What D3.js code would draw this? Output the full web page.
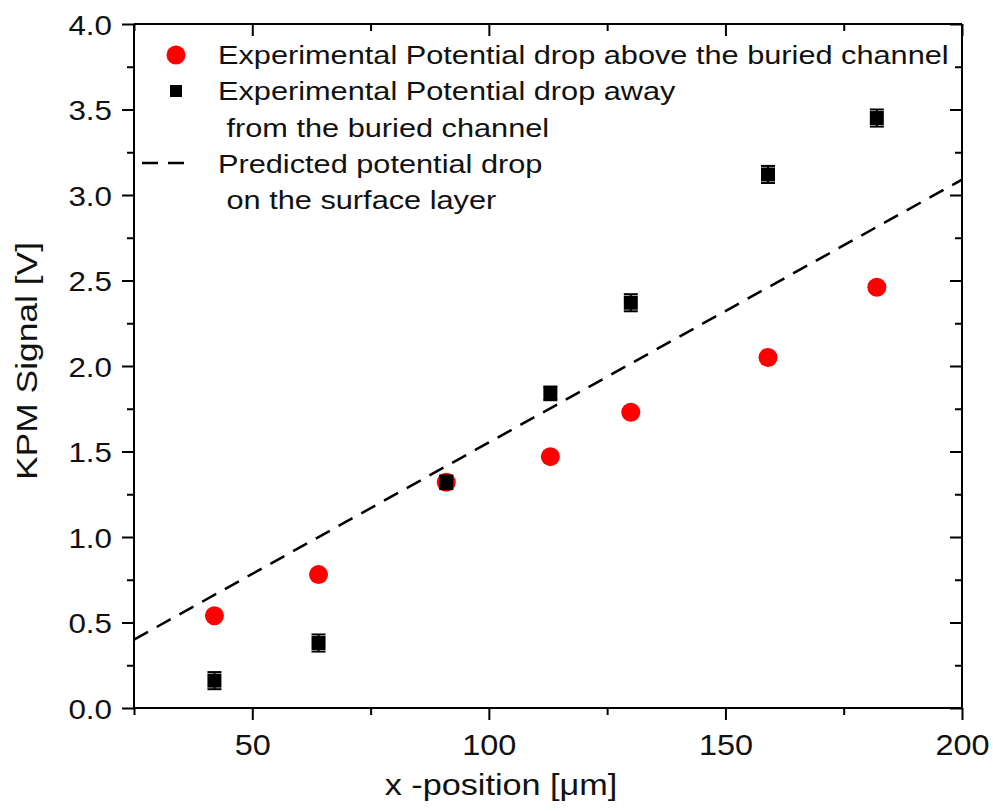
<!DOCTYPE html>
<html>
<head>
<meta charset="utf-8">
<script src="https://cdn.jsdelivr.net/npm/d3@7"></script>
<style>
  body { margin: 0; background: #fff; }
  svg { font-family: Arial, "Liberation Sans", sans-serif; }
</style>
</head>
<body>
<div id="wrapper"></div>
<script>
// x positions [µm]
const xPos = [42, 64, 91, 113, 130, 159, 182]
// KPM signal above the buried channel (red circles)
const aboveVals = [0.54, 0.78, 1.32, 1.47, 1.73, 2.05, 2.46]
const aboveErr = [0.03, 0.03, 0.03, 0.03, 0.03, 0.03, 0.03]
// KPM signal away from the buried channel (black squares)
const awayVals = [0.16, 0.38, 1.32, 1.84, 2.37, 3.12, 3.45]
const awayErr = [0.05, 0.05, 0.04, 0.04, 0.05, 0.05, 0.05]
// predicted potential drop (dashed line end points)
const predX = [25, 200]
const predY = [0.40, 3.09]

const xTicks = [50, 100, 150, 200]
const yTicks = [0.0, 0.5, 1.0, 1.5, 2.0, 2.5, 3.0, 3.5, 4.0]
const legendLines = [
    "Experimental Potential drop above the buried channel",
    "Experimental Potential drop away",
    " from the buried channel",
    "Predicted potential drop",
    " on the surface layer"
]

// the text in the original is a bit wider than Arial
const stretch = 1.18

let dimensions = {
    width: 993,
    height: 811,
    margin: { top: 24, right: 31, bottom: 103, left: 134 }
}
let innerW = dimensions.width - dimensions.margin.left - dimensions.margin.right
let innerH = dimensions.height - dimensions.margin.top - dimensions.margin.bottom

let svg = d3.select("#wrapper")
    .append("svg")
    .attr("width", dimensions.width)
    .attr("height", dimensions.height)

let g = svg.append("g")
    .attr("transform", `translate(${dimensions.margin.left},${dimensions.margin.top})`)

let x = d3.scaleLinear().domain([25, 200]).range([0, innerW])
let y = d3.scaleLinear().domain([0, 4]).range([innerH, 0])

const minorX = d3.range(25, 201, 25).filter(d => d % 50 !== 0)
const minorY = d3.range(0.25, 4, 0.5)

function styleAxis(sel) {
    sel.selectAll("path").attr("stroke", "#000").attr("stroke-width", 2)
    sel.selectAll("line").attr("stroke", "#000").attr("stroke-width", 2)
    sel.selectAll("text").attr("fill", "#111")
}

// bottom axis (outer ticks)
g.append("g")
    .attr("transform", `translate(0,${innerH})`)
    .call(d3.axisBottom(x).tickValues(xTicks).tickSize(12).tickFormat(d3.format("d")))
    .call(styleAxis)
    .call(a => a.select(".domain").attr("d", `M0,0H${innerW}`))
    .call(a => a.selectAll("text")
        .attr("y", null).attr("dy", null)
        .attr("font-size", "30px")
        .attr("transform", `translate(0,47) scale(1.08,1)`))
g.append("g")
    .attr("transform", `translate(0,${innerH})`)
    .call(d3.axisBottom(x).tickValues(minorX).tickSize(7).tickFormat(""))
    .call(styleAxis)
    .call(a => a.select(".domain").remove())

// left axis (outer ticks)
g.append("g")
    .call(d3.axisLeft(y).tickValues(yTicks).tickSize(12).tickFormat(d3.format(".1f")))
    .call(styleAxis)
    .call(a => a.select(".domain").attr("d", `M0,${innerH}V0`))
    .call(a => a.selectAll("text")
        .attr("x", null).attr("dy", "0.36em")
        .attr("font-size", "28px")
        .attr("transform", `translate(-22,0) scale(1.12,1)`))
g.append("g")
    .call(d3.axisLeft(y).tickValues(minorY).tickSize(7).tickFormat(""))
    .call(styleAxis)
    .call(a => a.select(".domain").remove())

// top axis (inner ticks, no labels)
g.append("g")
    .call(d3.axisTop(x).tickValues(xTicks).tickSize(-12).tickFormat(""))
    .call(styleAxis)
    .call(a => a.select(".domain").attr("d", `M0,0H${innerW}`))
g.append("g")
    .call(d3.axisTop(x).tickValues(minorX).tickSize(-7).tickFormat(""))
    .call(styleAxis)
    .call(a => a.select(".domain").remove())

// right axis (inner ticks, no labels)
g.append("g")
    .attr("transform", `translate(${innerW},0)`)
    .call(d3.axisRight(y).tickValues(yTicks).tickSize(-12).tickFormat(""))
    .call(styleAxis)
    .call(a => a.select(".domain").attr("d", `M0,${innerH}V0`))
g.append("g")
    .attr("transform", `translate(${innerW},0)`)
    .call(d3.axisRight(y).tickValues(minorY).tickSize(-7).tickFormat(""))
    .call(styleAxis)
    .call(a => a.select(".domain").remove())

// axis titles
svg.append("text")
    .attr("transform", `translate(501,795) scale(${stretch},1)`)
    .attr("text-anchor", "middle")
    .attr("font-size", "29px")
    .attr("fill", "#111")
    .text("x -position [μm]")

svg.append("text")
    .attr("transform", `translate(37,361) rotate(-90) scale(${stretch},1)`)
    .attr("text-anchor", "middle")
    .attr("font-size", "30px")
    .attr("fill", "#111")
    .text("KPM Signal [V]")

// predicted line
let predData = predX.map((d, i) => [d, predY[i]])
g.append("path")
    .datum(predData)
    .attr("fill", "none")
    .attr("stroke", "#000")
    .attr("stroke-width", 2.5)
    .attr("stroke-dasharray", "16,10")
    .attr("d", d3.line().x(d => x(d[0])).y(d => y(d[1])))

// data points
function drawErr(vals, errs, color) {
    let eg = g.append("g").attr("stroke", color).attr("stroke-width", 2)
    xPos.forEach((xv, i) => {
        let cx = x(xv), y0 = y(vals[i] - errs[i]), y1 = y(vals[i] + errs[i])
        eg.append("line").attr("x1", cx).attr("x2", cx).attr("y1", y0).attr("y2", y1)
        eg.append("line").attr("x1", cx - 7).attr("x2", cx + 7).attr("y1", y0).attr("y2", y0)
        eg.append("line").attr("x1", cx - 7).attr("x2", cx + 7).attr("y1", y1).attr("y2", y1)
    })
}

drawErr(aboveVals, aboveErr, "#ff0000")
g.append("g").selectAll("circle")
    .data(xPos)
    .enter()
    .append("circle")
    .attr("cx", d => x(d))
    .attr("cy", (d, i) => y(aboveVals[i]))
    .attr("r", 9.5)
    .attr("fill", "#ff0000")

drawErr(awayVals, awayErr, "#000")
g.append("g").selectAll("rect")
    .data(xPos)
    .enter()
    .append("rect")
    .attr("x", d => x(d) - 7)
    .attr("y", (d, i) => y(awayVals[i]) - 7)
    .attr("width", 14)
    .attr("height", 14)
    .attr("fill", "#000")

// legend
let legend = svg.append("g")
legend.append("circle").attr("cx", 176).attr("cy", 55).attr("r", 9.5).attr("fill", "#ff0000")
legend.append("rect").attr("x", 170).attr("y", 85).attr("width", 12).attr("height", 12).attr("fill", "#000")
legend.append("line")
    .attr("x1", 142).attr("x2", 186).attr("y1", 163).attr("y2", 163)
    .attr("stroke", "#000").attr("stroke-width", 2.5).attr("stroke-dasharray", "16,10")
legend.selectAll("text")
    .data(legendLines)
    .enter()
    .append("text")
    .attr("transform", (d, i) => `translate(218,${64 + i * 36.3}) scale(1.2,1)`)
    .attr("font-size", "25.6px")
    .attr("fill", "#111")
    .attr("xml:space", "preserve")
    .style("white-space", "pre")
    .text(d => d)
</script>
</body>
</html>
